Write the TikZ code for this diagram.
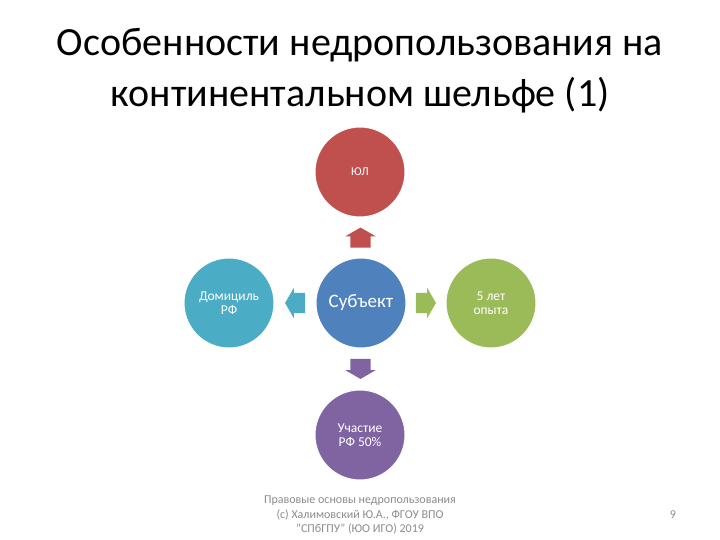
\documentclass[tikz,border=0pt]{standalone}
\usepackage{fontspec}
\setmainfont{Carlito}
\usetikzlibrary{shapes.arrows,calc}
\definecolor{yulred}{HTML}{C0504D}
\definecolor{subblue}{HTML}{4F81BD}
\definecolor{domcyan}{HTML}{4BACC6}
\definecolor{opgreen}{HTML}{9BBB59}
\definecolor{uchpurple}{HTML}{8064A2}
\definecolor{footgray}{HTML}{8C8C8C}
\tikzset{
  krug/.style={shape=circle,draw=white,line width=1pt,minimum size=90pt,inner sep=0pt,
    text=white,align=center,font=\fontsize{12}{14}\selectfont},
  strelka/.style={single arrow,inner xsep=0pt,inner ysep=10pt,minimum height=20pt,
    single arrow head extend=5pt,single arrow tip angle=120,rotate=#1,xshift=-3pt}
}
\begin{document}
\begin{tikzpicture}[x=1pt,y=-1pt]
  \useasboundingbox[fill=white] (0,0) rectangle (720,540);
  \node[align=center,font=\fontsize{40}{51}\selectfont] (title) at (360,71)
    {Особенности недропользования на\\континентальном шельфе (1)};

  \node[krug,fill=subblue,font=\fontsize{19}{20}\selectfont] (sub) at (361,303) {Субъект};
  \node[krug,fill=yulred] (yul) at (360,172) {ЮЛ};
  \node[krug,fill=domcyan,font=\fontsize{13.5}{14}\selectfont] (dom) at (229,303) {Домициль\\РФ};
  \node[krug,fill=opgreen,font=\fontsize{13.5}{14}\selectfont] (opyt) at (491,303) {5 лет\\опыта};
  \node[krug,fill=uchpurple,font=\fontsize{13.5}{14}\selectfont] (uch) at (360,435) {Участие\\РФ 50\%};

  \node[strelka=90,fill=yulred] (s1) at ($(sub)!0.5!(yul)$) {};
  \node[strelka=180,fill=domcyan] (s2) at ($(sub)!0.5!(dom)$) {};
  \node[strelka=0,fill=opgreen] (s3) at ($(sub)!0.5!(opyt)$) {};
  \node[strelka=270,fill=uchpurple] (s4) at ($(sub)!0.5!(uch)$) {};

  \node[align=center,text=footgray,font=\fontsize{12}{14.5}\selectfont] (foot) at (360,515)
    {Правовые основы недропользования\\(с) Халимовский Ю.А., ФГОУ ВПО\\''СПбГПУ'' (ЮО ИГО) 2019};
  \node[text=footgray,font=\fontsize{12}{12}\selectfont] (page) at (673,515) {9};
\end{tikzpicture}
\end{document}
